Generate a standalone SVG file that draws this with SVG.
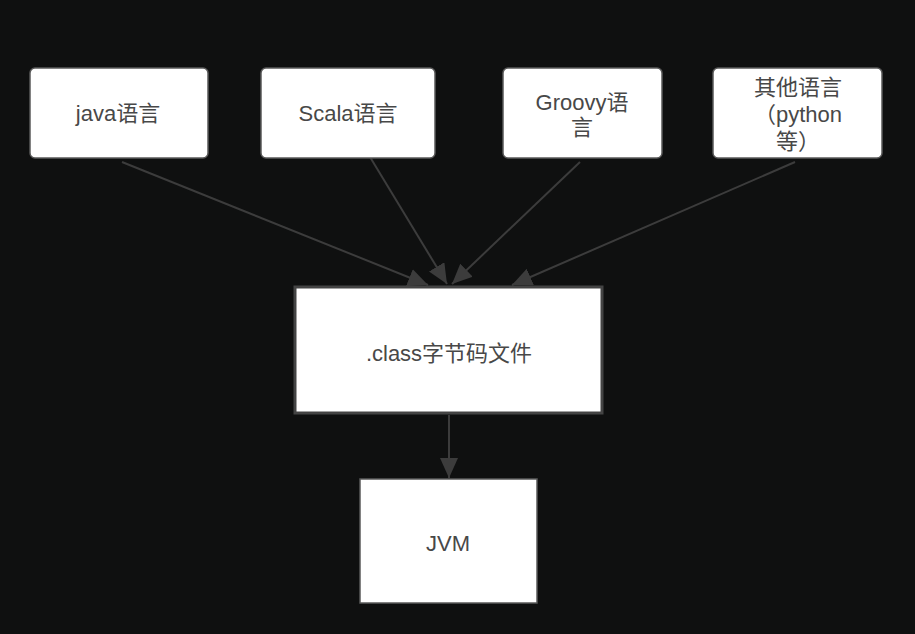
<svg xmlns="http://www.w3.org/2000/svg" width="915" height="634" viewBox="0 0 915 634">
<defs>
<style>
.box{fill:#ffffff;stroke:#5a5a5a;stroke-width:1.5}
.big{fill:#ffffff;stroke:#444444;stroke-width:3}
.t{font-family:"Liberation Sans","Noto Sans CJK SC",sans-serif;font-size:22px;fill:#484848;text-anchor:middle;dominant-baseline:central}
.c{stroke:#3c3c3c;stroke-width:2;fill:none}
</style>
<marker id="ah2" viewBox="0 0 20 18" refX="20" refY="9" markerWidth="20" markerHeight="18" markerUnits="userSpaceOnUse" orient="auto">
<path d="M0,0 L20,9 L0,18 Z" fill="#3c3c3c"/>
</marker>
</defs>
<rect width="915" height="634" fill="#0f1010"/>
<g id="connectors">
<line class="c" x1="122" y1="162" x2="428" y2="285" marker-end="url(#ah2)"/>
<line class="c" x1="370" y1="157" x2="447" y2="284" marker-end="url(#ah2)"/>
<line class="c" x1="580" y1="162" x2="452" y2="284" marker-end="url(#ah2)"/>
<line class="c" x1="795" y1="162" x2="512" y2="285" marker-end="url(#ah2)"/>
<line class="c" x1="449" y1="415" x2="449" y2="478" marker-end="url(#ah2)"/>
</g>
<g id="java">
<rect class="box" x="30" y="68" width="178" height="90" rx="5"/>
<text class="t" x="118" y="113">java语言</text>
</g>
<g id="scala">
<rect class="box" x="261" y="68" width="174" height="90" rx="5"/>
<text class="t" x="348" y="113">Scala语言</text>
</g>
<g id="groovy">
<rect class="box" x="503" y="68" width="159" height="90" rx="5"/>
<text class="t" x="582" y="102">Groovy语</text>
<text class="t" x="582" y="127">言</text>
</g>
<g id="other">
<rect class="box" x="713" y="68" width="169" height="90" rx="5"/>
<text class="t" x="798" y="87">其他语言</text>
<text class="t" x="798" y="114">（python</text>
<text class="t" x="798" y="141">等）</text>
</g>
<g id="classfile">
<rect class="big" x="295" y="287" width="307" height="126"/>
<text class="t" x="449" y="353">.class字节码文件</text>
</g>
<g id="jvm">
<rect class="box" x="360" y="479" width="177" height="124"/>
<text class="t" x="448" y="543">JVM</text>
</g>
</svg>
